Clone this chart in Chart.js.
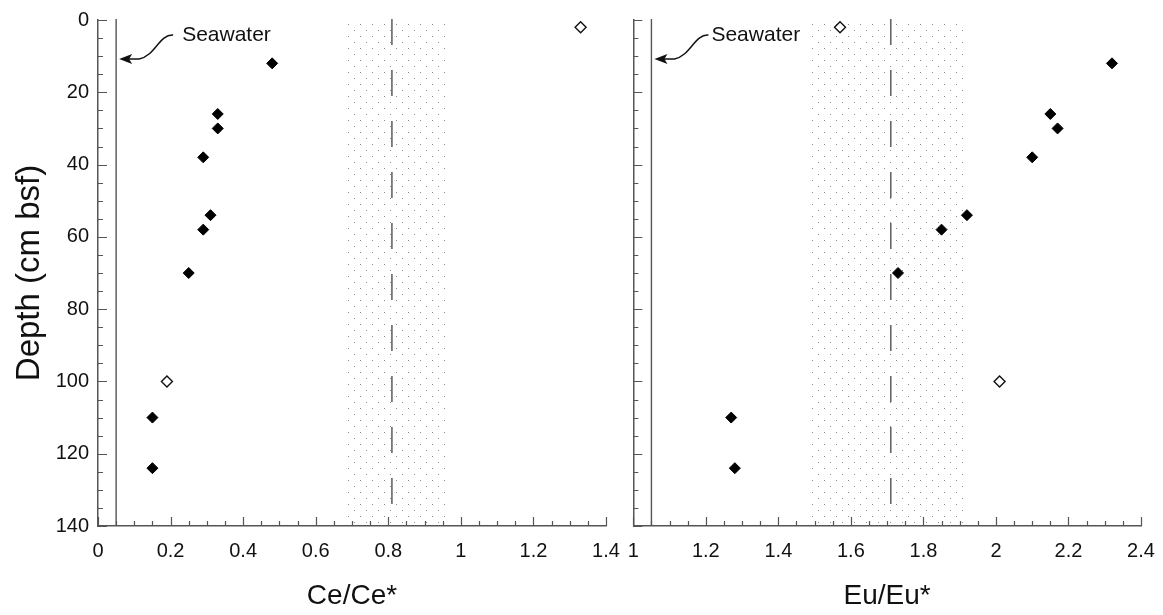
<!DOCTYPE html>
<html>
<head>
<meta charset="utf-8">
<script src="https://cdn.jsdelivr.net/npm/chart.js@4.4.1/dist/chart.umd.min.js"></script>
<style>
  html, body { margin: 0; padding: 0; background: #fff; overflow: hidden; }
  #wrap { position: relative; width: 1163px; height: 615px; }
  canvas { position: absolute; top: 0; }
</style>
</head>
<body>
<div id="wrap">
  <canvas id="chartCe" width="620" height="615" style="left:0"></canvas>
  <canvas id="chartEu" width="543" height="615" style="left:620px"></canvas>
</div>
<script>
// profondeurs des échantillons (cm bsf)
const depthFilled = [12, 26, 30, 38, 54, 58, 70, 110, 124];
const depthOpen = [2, 100];

// anomalies Ce et Eu
const ceFilled = [0.48, 0.33, 0.33, 0.29, 0.31, 0.29, 0.25, 0.15, 0.15];
const ceOpen = [1.33, 0.19];
const euFilled = [2.32, 2.15, 2.17, 2.10, 1.92, 1.85, 1.73, 1.27, 1.28];
const euOpen = [1.57, 2.01];

// bande grisée (plage) et valeur moyenne (tirets)
const ceBand = [0.68, 0.96];
const ceMean = 0.81;
const euBand = [1.48, 1.92];
const euMean = 1.71;

// valeur de l'eau de mer
const ceSeawater = 0.05;
const euSeawater = 1.05;
const seawaterDepth = 10.8;

// ticks des axes
const depthTicks = [0, 20, 40, 60, 80, 100, 120, 140];
const ceTicks = [0, 0.2, 0.4, 0.6, 0.8, 1, 1.2, 1.4];
const euTicks = [1, 1.2, 1.4, 1.6, 1.8, 2, 2.2, 2.4];

const FONT = "'Liberation Sans', Arial, sans-serif";
const AXIS = '#555';

// motif pointillé pour la bande
function stipple() {
  const c = document.createElement('canvas');
  c.width = 12; c.height = 12;
  const g = c.getContext('2d');
  g.fillStyle = '#8c8c8c';
  g.fillRect(0, 0, 1, 1);
  g.fillRect(6, 6, 1, 1);
  return c;
}
const stippleTile = stipple();

function pts(xs, ys) {
  return xs.map((v, i) => ({ x: v, y: ys[i] }));
}

// bande, tirets et ligne de l'eau de mer
const bandPlugin = {
  id: 'band',
  beforeDatasetsDraw(chart, args, o) {
    const { ctx, chartArea: a, scales: { x, y } } = chart;
    ctx.save();
    const x0 = x.getPixelForValue(o.band[0]);
    const x1 = x.getPixelForValue(o.band[1]);
    ctx.fillStyle = ctx.createPattern(stippleTile, 'repeat');
    ctx.fillRect(x0, a.top, x1 - x0, a.bottom - a.top);

    const xm = x.getPixelForValue(o.mean);
    ctx.strokeStyle = '#666';
    ctx.lineWidth = 1.6;
    ctx.setLineDash([26, 25]);
    ctx.beginPath();
    ctx.moveTo(xm, a.top - 1);
    ctx.lineTo(xm, a.bottom);
    ctx.stroke();
    ctx.setLineDash([]);

    const xs = x.getPixelForValue(o.seawater);
    ctx.strokeStyle = AXIS;
    ctx.lineWidth = 1.4;
    ctx.beginPath();
    ctx.moveTo(xs, a.top - 1);
    ctx.lineTo(xs, a.bottom);
    ctx.stroke();
    ctx.restore();
  },
  afterDraw(chart, args, o) {
    const { ctx, chartArea: a, scales: { x, y } } = chart;
    ctx.save();
    // ticks vers l'intérieur
    ctx.strokeStyle = AXIS;
    ctx.lineWidth = 1.2;
    ctx.beginPath();
    for (let v = y.min; v <= y.max + 1e-6; v += 5) {
      const len = Math.abs(v % 20) < 1e-6 ? 9 : 5;
      const py = Math.round(y.getPixelForValue(v)) + 0.5;
      ctx.moveTo(a.left, py);
      ctx.lineTo(a.left + len, py);
    }
    for (let i = 0; i <= Math.round((x.max - x.min) / 0.05); i++) {
      const v = x.min + i * 0.05;
      const len = i % 4 === 0 ? 9 : 5;
      const px = Math.round(x.getPixelForValue(v)) + 0.5;
      ctx.moveTo(px, a.bottom);
      ctx.lineTo(px, a.bottom - len);
    }
    ctx.stroke();

    // flèche « Seawater »
    const tx = x.getPixelForValue(o.seawater) + 3;
    const ty = y.getPixelForValue(seawaterDepth);
    ctx.strokeStyle = '#111';
    ctx.fillStyle = '#111';
    ctx.lineWidth = 1.5;
    ctx.beginPath();
    ctx.moveTo(tx + 54, ty - 24);
    ctx.bezierCurveTo(tx + 40, ty - 25, tx + 36, ty - 3, tx + 20, ty);
    ctx.lineTo(tx + 9, ty);
    ctx.stroke();
    ctx.beginPath();
    ctx.moveTo(tx, ty);
    ctx.lineTo(tx + 13, ty - 5);
    ctx.lineTo(tx + 10, ty);
    ctx.lineTo(tx + 13, ty + 5);
    ctx.closePath();
    ctx.fill();
    ctx.font = '21px ' + FONT;
    ctx.textBaseline = 'middle';
    ctx.textAlign = 'left';
    ctx.fillText('Seawater', tx + o.labelDx, ty - 24);
    ctx.restore();
  }
};

function makeChart(id, opts) {
  const ctx = document.getElementById(id).getContext('2d');
  return new Chart(ctx, {
    type: 'scatter',
    data: {
      datasets: [
        {
          data: pts(opts.filled, depthFilled),
          pointStyle: 'rectRot',
          pointRadius: 5.5,
          backgroundColor: '#000',
          borderColor: '#000',
          borderWidth: 1,
        },
        {
          data: pts(opts.open, depthOpen),
          pointStyle: 'rectRot',
          pointRadius: 5.5,
          backgroundColor: '#fff',
          borderColor: '#111',
          borderWidth: 1.4,
        },
      ],
    },
    options: {
      responsive: false,
      animation: false,
      events: [],
      layout: { padding: { top: 20, right: opts.padRight, bottom: 0, left: 0 } },
      plugins: {
        legend: { display: false },
        tooltip: { enabled: false },
        band: { band: opts.band, mean: opts.mean, seawater: opts.seawater, labelDx: opts.labelDx },
      },
      scales: {
        x: {
          type: 'linear',
          min: opts.xTicks[0],
          max: opts.xTicks[opts.xTicks.length - 1],
          afterBuildTicks: (s) => { s.ticks = opts.xTicks.map(v => ({ value: v })); },
          afterFit: (s) => { s.height = 89; s.paddingLeft = 0; s.paddingRight = 0; },
          grid: { display: false, drawTicks: false },
          border: { display: true, color: AXIS, width: 1.5 },
          ticks: {
            color: '#111',
            padding: 13,
            maxRotation: 0,
            autoSkip: false,
            font: { family: FONT, size: 20 },
            callback: (v) => String(Math.round(v * 10) / 10),
          },
          title: {
            display: true,
            text: opts.title,
            color: '#111',
            font: { family: FONT, size: 28 },
            padding: { top: 0, bottom: 2 },
          },
        },
        y: {
          type: 'linear',
          reverse: true,
          min: 0,
          max: 140,
          afterBuildTicks: (s) => { s.ticks = depthTicks.map(v => ({ value: v })); },
          afterFit: (s) => { s.width = opts.yWidth; s.paddingTop = 0; s.paddingBottom = 0; },
          grid: { display: false, drawTicks: false },
          border: { display: true, color: AXIS, width: 1.5 },
          ticks: {
            display: opts.showY,
            color: '#111',
            padding: 9,
            font: { family: FONT, size: 20 },
          },
          title: {
            display: opts.showY,
            text: 'Depth (cm bsf)',
            color: '#111',
            font: { family: FONT, size: 33 },
            padding: { top: 10, bottom: 0 },
          },
        },
      },
    },
    plugins: [bandPlugin],
  });
}

makeChart('chartCe', {
  filled: ceFilled, open: ceOpen, band: ceBand, mean: ceMean, seawater: ceSeawater,
  xTicks: ceTicks, title: 'Ce/Ce*', showY: true, yWidth: 98, padRight: 14, labelDx: 63,
});
makeChart('chartEu', {
  filled: euFilled, open: euOpen, band: euBand, mean: euMean, seawater: euSeawater,
  xTicks: euTicks, title: 'Eu/Eu*', showY: false, yWidth: 13.3, padRight: 22, labelDx: 57,
});
</script>
</body>
</html>
